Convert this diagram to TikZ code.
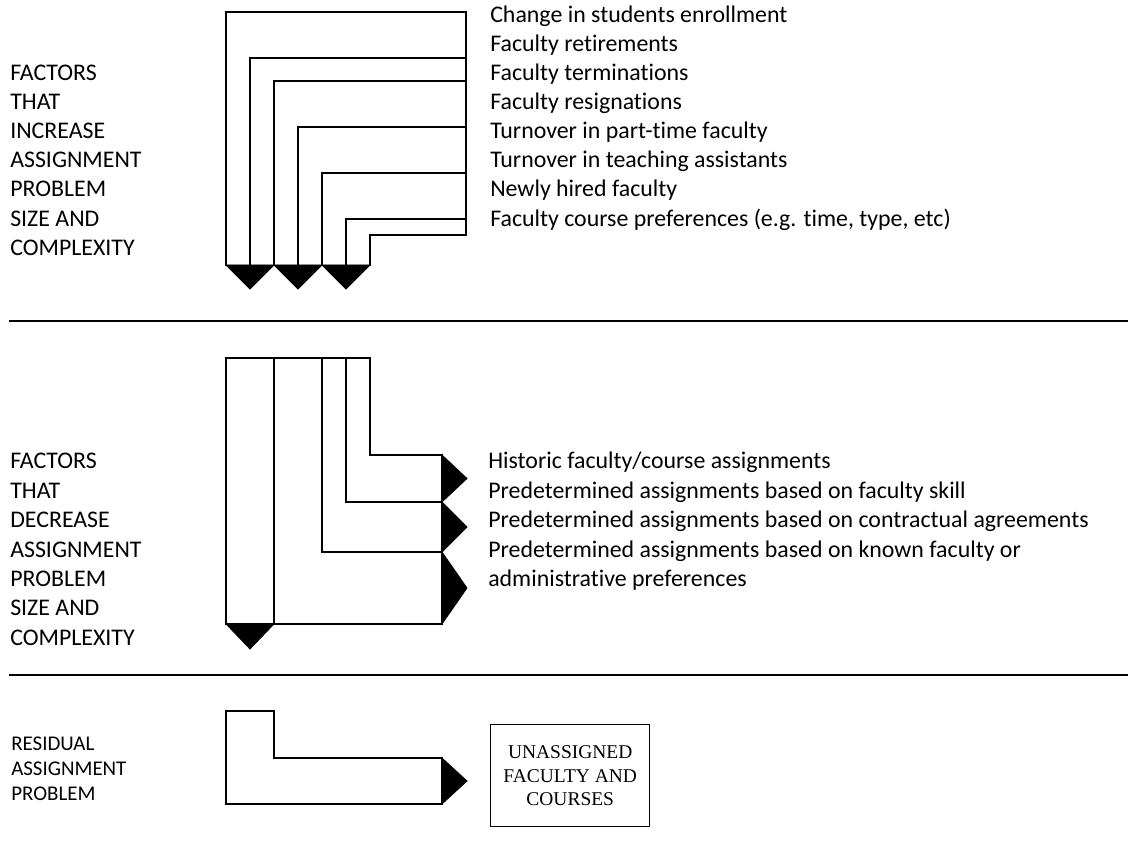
\documentclass[tikz,border=0pt]{standalone}
\usepackage{fontspec}
\setmainfont{Carlito}[RawFeature={-liga}]
\newfontfamily\boxfont{Liberation Serif}
\begin{document}
\begin{tikzpicture}[x=0.75pt,y=-0.75pt,
  lbl/.style={anchor=base west,inner sep=0pt,font=\fontsize{17.9}{21}\selectfont},
  smlbl/.style={anchor=base west,inner sep=0pt,font=\fontsize{15.7}{18}\selectfont},
  ln/.style={line width=1.1pt,line cap=rect},
  sep/.style={line width=1.6pt},
  tip/.style={fill=black,draw=black,line width=0.6pt,line join=miter}]
\useasboundingbox (0,0) rectangle (1128,848);
% separators
\draw[sep] (9,321) -- (1128,321);
\draw[sep] (9,675) -- (1128,675);

% ---------- top section ----------
\draw[ln] (226,265) -- (226,12) -- (466,12) -- (466,235);
\draw[ln] (250,265) -- (250,58) -- (466,58);
\draw[ln] (274,265) -- (274,81) -- (466,81);
\draw[ln] (298,265) -- (298,127) -- (466,127);
\draw[ln] (322,265) -- (322,173) -- (466,173);
\draw[ln] (346,265) -- (346,219) -- (466,219);
\draw[ln] (370,265) -- (370,235) -- (466,235);
\fill[tip] (226,265) -- (274,265) -- (250,289) -- cycle;
\fill[tip] (274,265) -- (322,265) -- (298,289) -- cycle;
\fill[tip] (322,265) -- (370,265) -- (346,289) -- cycle;

\node[lbl] (t1) at (490,23) {Change in students enrollment};
\node[lbl] (t2) at (490,52) {Faculty retirements};
\node[lbl] (t3) at (490,81) {Faculty terminations};
\node[lbl] (t4) at (490,110) {Faculty resignations};
\node[lbl] (t5) at (490,139) {Turnover in part-time faculty};
\node[lbl] (t6) at (490,168) {Turnover in teaching assistants};
\node[lbl] (t7) at (490,197) {Newly hired faculty};
\node[lbl] (t8) at (490,227) {Faculty course preferences (e.g. time, type, etc)};

\node[lbl] (a1) at (10,81) {FACTORS};
\node[lbl] (a2) at (10,110) {THAT};
\node[lbl] (a3) at (10,139) {INCREASE};
\node[lbl] (a4) at (10,168) {ASSIGNMENT};
\node[lbl] (a5) at (10,197) {PROBLEM};
\node[lbl] (a6) at (10,227) {SIZE AND};
\node[lbl] (a7) at (10,256) {COMPLEXITY};

% ---------- middle section ----------
\draw[ln] (226,624) -- (226,358) -- (370,358) -- (370,455) -- (442,455);
\draw[ln] (274,624) -- (274,358);
\draw[ln] (322,358) -- (322,552) -- (442,552);
\draw[ln] (346,358) -- (346,502) -- (442,502);
\draw[ln] (226,624) -- (442,624) -- (442,455);
\fill[tip] (442,455) -- (442,502) -- (467,478.5) -- cycle;
\fill[tip] (442,502) -- (442,552) -- (467,527) -- cycle;
\fill[tip] (442,552) -- (442,624) -- (467,588) -- cycle;
\fill[tip] (226,624) -- (274,624) -- (250,649) -- cycle;

\node[lbl] (m1) at (488,468) {Historic faculty/course assignments};
\node[lbl] (m2) at (488,498) {Predetermined assignments based on faculty skill};
\node[lbl] (m3) at (488,527) {Predetermined assignments based on contractual agreements};
\node[lbl] (m4) at (488,557) {Predetermined assignments based on known faculty or};
\node[lbl] (m5) at (488,586) {administrative preferences};

\node[lbl] (b1) at (10,468) {FACTORS};
\node[lbl] (b2) at (10,498) {THAT};
\node[lbl] (b3) at (10,527) {DECREASE};
\node[lbl] (b4) at (10,557) {ASSIGNMENT};
\node[lbl] (b5) at (10,586) {PROBLEM};
\node[lbl] (b6) at (10,615) {SIZE AND};
\node[lbl] (b7) at (10,645) {COMPLEXITY};

% ---------- bottom section ----------
\draw[ln] (442,758) -- (274,758) -- (274,711) -- (226,711) -- (226,804) -- (442,804) -- (442,758);
\fill[tip] (442,758) -- (442,804) -- (467,781) -- cycle;

\node[draw,line width=1.1pt,minimum width=159*0.75pt,minimum height=102*0.75pt,
  inner sep=0pt,align=center,anchor=north west,
  font=\boxfont\fontsize{14.6}{17.5}\selectfont] (ua) at (490,724)
  {UNASSIGNED\\FACULTY AND\\COURSES};

\node[smlbl] (r1) at (11,750) {RESIDUAL};
\node[smlbl] (r2) at (11,775) {ASSIGNMENT};
\node[smlbl] (r3) at (11,800) {PROBLEM};
\end{tikzpicture}
\end{document}
